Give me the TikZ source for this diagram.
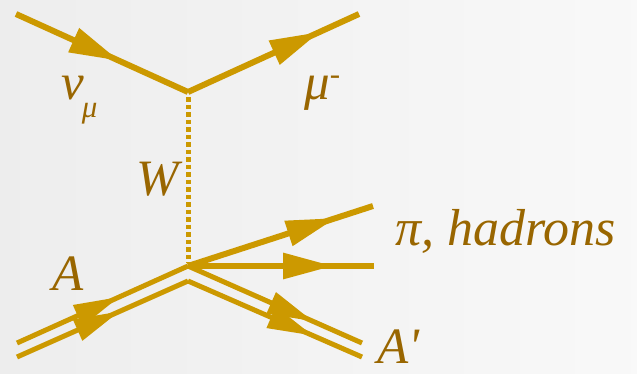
\documentclass[tikz,border=0pt]{standalone}
\usepackage{fontspec}
\setmainfont{Liberation Serif}
\usetikzlibrary{arrows.meta,decorations.markings}
\definecolor{ln}{RGB}{204,153,0}
\definecolor{tx}{RGB}{153,102,0}
\begin{document}
\begin{tikzpicture}[x=1pt,y=-1pt,
  fline/.style={draw=ln,line width=6pt},
  dline/.style={draw=ln,line width=5pt},
  wline/.style={draw=ln,line width=5pt,dash pattern=on 4.5pt off 3pt},
  tipat/.style={postaction={decorate,decoration={markings,
     mark=at position #1 with {\arrow[ln]{Triangle[length=50pt,width=25pt]}}}}},
  tipdat/.style={postaction={decorate,decoration={markings,
     mark=at position #1 with {\arrow[ln]{Triangle[length=46pt,width=22pt]}}}}},
  lbl/.style={text=tx,font=\fontsize{51}{54}\selectfont\itshape,inner sep=0pt,anchor=base west,text depth=0pt}]
\shade[left color=black!7,right color=black!2.5] (0,0) rectangle (637,373);
\useasboundingbox (0,0) rectangle (637,373);
% coordinates
\coordinate (nuin) at (16,14);
\coordinate (v1) at (188,92);
\coordinate (muout) at (359,14);
\coordinate (wtop) at (188,97);
\coordinate (wbot) at (188,263);
\coordinate (v2) at (188,266);
\coordinate (v2b) at (188,281);
\coordinate (piout) at (373,206);
\coordinate (hout) at (374,266);
\coordinate (ain1) at (17,343);
\coordinate (ain2) at (17,357);
\coordinate (aout1) at (362,343);
\coordinate (aout2) at (362,357);
% lines
\draw[fline,tipat=0.6] (nuin) -- (v1);
\draw[fline,tipat=0.77] (v1) -- (muout);
\draw[wline] (wtop) -- (wbot);
\draw[fline,tipat=0.8] (v2) -- (piout);
\draw[fline,tipat=0.78] (v2) -- (hout);
\draw[dline,tipdat=0.6] (ain1) -- (v2);
\draw[dline,tipdat=0.6] (ain2) -- (v2b);
\draw[dline,tipdat=0.72] (v2) -- (aout1);
\draw[dline,tipdat=0.72] (v2b) -- (aout2);
% labels
\node[lbl] (lnu) at (61,99) {ν\kern-2pt\raisebox{-18pt}{\fontsize{31}{31}\selectfont μ}};
\node[lbl] (lmu) at (304,99) {μ\raisebox{15pt}{\fontsize{31}{31}\selectfont -}};
\node[lbl] (lw) at (136,195) {W};
\node[lbl] (la) at (52,290) {A};
\node[lbl,font=\fontsize{52}{55}\selectfont\itshape] (lpi) at (395,245) {π, hadrons};
\node[lbl] (lap) at (377,363) {A\textquotesingle};
\end{tikzpicture}
\end{document}
